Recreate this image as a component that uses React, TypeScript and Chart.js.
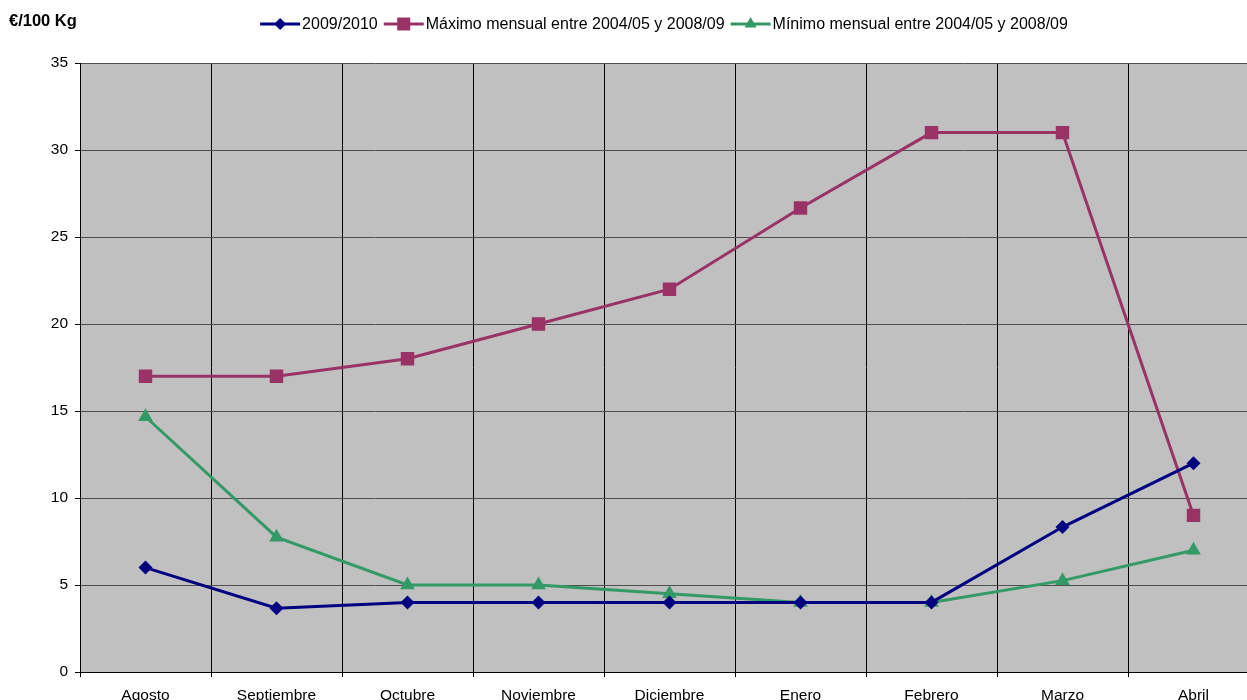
import { useEffect, useRef } from "react";
import { Chart, registerables } from "chart.js";

Chart.register(...registerables);

const categories = [
  "Agosto",
  "Septiembre",
  "Octubre",
  "Noviembre",
  "Diciembre",
  "Enero",
  "Febrero",
  "Marzo",
  "Abril",
];
const serie2009 = [6, 3.67, 4, 4, 4, 4, 4, 8.33, 12];
const maximo = [17, 17, 18, 20, 22, 26.67, 31, 31, 9];
const minimo = [14.67, 7.75, 5, 5, 4.5, 4, 4, 5.25, 7];
const seriesNames = [
  "2009/2010",
  "Máximo mensual entre 2004/05 y 2008/09",
  "Mínimo mensual entre 2004/05 y 2008/09",
];
const seriesColors = ["#000080", "#993366", "#339966"];
const seriesMarkers = ["rectRot", "rect", "triangle"];
const markerRadius = [7, 9.5, 8.5];
const unitLabel = "€/100 Kg";
const yMin = 0;
const yMax = 35;
const yStep = 5;

const FONT = "'Liberation Sans', Arial, sans-serif";

function drawMarker(
  ctx: CanvasRenderingContext2D,
  style: string,
  x: number,
  y: number,
  color: string
) {
  ctx.save();
  ctx.fillStyle = color;
  ctx.beginPath();
  if (style === "rectRot") {
    const r = 6;
    ctx.moveTo(x, y - r);
    ctx.lineTo(x + r, y);
    ctx.lineTo(x, y + r);
    ctx.lineTo(x - r, y);
    ctx.closePath();
  } else if (style === "rect") {
    const s = 6.5;
    ctx.rect(x - s, y - s, 2 * s, 2 * s);
  } else {
    const r = 7;
    ctx.moveTo(x, y - r);
    ctx.lineTo(x + r * 0.866, y + r * 0.5);
    ctx.lineTo(x - r * 0.866, y + r * 0.5);
    ctx.closePath();
  }
  ctx.fill();
  ctx.restore();
}

const plotBackground = {
  id: "plotBackground",
  beforeDraw(chart: any) {
    const { ctx, chartArea } = chart;
    ctx.save();
    ctx.fillStyle = "#C0C0C0";
    ctx.fillRect(
      chartArea.left,
      chartArea.top,
      chartArea.right - chartArea.left,
      chartArea.bottom - chartArea.top
    );
    ctx.restore();
  },
};

const excelLegend = {
  id: "excelLegend",
  afterDraw(chart: any) {
    const ctx: CanvasRenderingContext2D = chart.ctx;
    ctx.save();
    // unit title
    ctx.font = `bold 16.5px ${FONT}`;
    ctx.fillStyle = "#000";
    ctx.textBaseline = "middle";
    ctx.textAlign = "left";
    ctx.fillText(unitLabel, 9, 21);

    // legend
    ctx.font = `16px ${FONT}`;
    const lineLen = 40;
    const gapText = 2;
    const gapItem = 6;
    const datasets = chart.data.datasets;
    const widths = datasets.map((d: any) => ctx.measureText(d.label).width);
    let total = 0;
    widths.forEach((w: number, i: number) => {
      total += lineLen + gapText + w + (i < widths.length - 1 ? gapItem : 0);
    });
    let x = 664 - total / 2;
    const y = 24;
    datasets.forEach((d: any, i: number) => {
      ctx.strokeStyle = d.borderColor;
      ctx.lineWidth = 3;
      ctx.beginPath();
      ctx.moveTo(x, y);
      ctx.lineTo(x + lineLen, y);
      ctx.stroke();
      drawMarker(ctx, d.pointStyle, x + lineLen / 2, y, d.borderColor);
      ctx.fillStyle = "#000";
      ctx.textAlign = "left";
      ctx.textBaseline = "middle";
      ctx.fillText(d.label, x + lineLen + gapText, y + 1);
      x += lineLen + gapText + widths[i] + gapItem;
    });
    ctx.restore();
  },
};

export default function App() {
  const canvasRef = useRef<HTMLCanvasElement | null>(null);

  useEffect(() => {
    const canvas = canvasRef.current;
    if (!canvas) return;
    const seriesValues = [serie2009, maximo, minimo];
    const chart = new Chart(canvas, {
      type: "line",
      data: {
        labels: categories,
        datasets: seriesValues.map((vals, i) => ({
          label: seriesNames[i],
          data: vals,
          borderColor: seriesColors[i],
          backgroundColor: seriesColors[i],
          borderWidth: 3,
          pointStyle: seriesMarkers[i] as any,
          pointRadius: markerRadius[i],
          pointBorderWidth: 0,
          pointBackgroundColor: seriesColors[i],
          pointBorderColor: seriesColors[i],
          tension: 0,
          fill: false,
        })),
      },
      options: {
        responsive: false,
        animation: false,
        devicePixelRatio: 1,
        events: [],
        layout: { padding: { top: 63, right: 21, bottom: 0, left: 0 } },
        plugins: {
          legend: { display: false },
          title: { display: false },
          tooltip: { enabled: false },
        },
        scales: {
          x: {
            type: "category",
            offset: true,
            grid: {
              offset: true,
              color: "#000",
              lineWidth: 1,
              tickLength: 5,
              tickColor: "#000",
            },
            border: { color: "#000", width: 1 },
            ticks: {
              color: "#000",
              font: { family: FONT, size: 15.5 },
              padding: 9,
              maxRotation: 0,
              autoSkip: false,
            },
            afterFit: (scale: any) => {
              scale.height = 48;
            },
          },
          y: {
            min: yMin,
            max: yMax,
            grid: {
              color: "#505050",
              lineWidth: 1,
              tickLength: 5,
              tickColor: "#000",
            },
            border: { color: "#000", width: 1 },
            ticks: {
              stepSize: yStep,
              color: "#000",
              font: { family: FONT, size: 15.5 },
              padding: 7,
            },
            afterFit: (scale: any) => {
              scale.width = 80;
            },
          },
        },
      },
      plugins: [plotBackground, excelLegend],
    });
    return () => chart.destroy();
  }, []);

  return (
    <div
      style={{
        position: "fixed",
        left: 0,
        top: 0,
        width: 1247,
        height: 700,
        overflow: "hidden",
        background: "#fff",
      }}
    >
      <canvas
        ref={canvasRef}
        width={1280}
        height={720}
        style={{ display: "block", width: 1280, height: 720 }}
      />
    </div>
  );
}
